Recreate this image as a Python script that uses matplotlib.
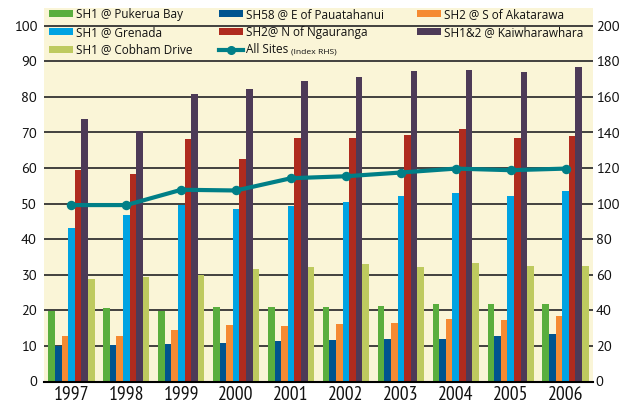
import matplotlib
matplotlib.use("Agg")
import matplotlib.pyplot as plt
import numpy as np
from matplotlib.patches import Patch
from matplotlib.lines import Line2D

plt.rcParams['font.family'] = ['Open Sans', 'DejaVu Sans']

years = ['1997', '1998', '1999', '2000', '2001', '2002', '2003', '2004', '2005', '2006']
pukerua = [19.7, 20.6, 19.7, 20.9, 20.9, 20.9, 21.2, 21.8, 21.8, 21.8]
pauatahanui = [9.9, 10.2, 10.5, 10.8, 11.4, 11.7, 12.0, 12.0, 12.8, 13.3]
akatarawa = [12.8, 12.8, 14.5, 15.8, 15.6, 16.2, 16.5, 17.6, 17.3, 18.4]
grenada = [43.2, 46.9, 49.7, 48.6, 49.4, 50.5, 52.2, 53.1, 52.2, 53.6]
ngauranga = [59.5, 58.4, 68.1, 62.5, 68.4, 68.4, 69.3, 71.0, 68.4, 68.9]
kaiwharawhara = [73.7, 70.4, 80.9, 82.3, 84.6, 85.5, 87.4, 87.7, 86.9, 88.3]
cobham = [28.7, 29.3, 29.9, 31.5, 32.3, 32.9, 32.1, 33.2, 32.6, 32.6]
all_sites_index = [99.2, 99.2, 107.8, 107.4, 114.3, 115.4, 117.5, 119.7, 118.8, 119.7]

series = [
    ('SH1 @ Pukerua Bay', pukerua, '#5AAE3E'),
    ('SH58 @ E of Pauatahanui', pauatahanui, '#00548F'),
    ('SH2 @ S of Akatarawa', akatarawa, '#F58A32'),
    ('SH1 @ Grenada', grenada, '#00A3E2'),
    ('SH2@ N of Ngauranga', ngauranga, '#AF2B1E'),
    ('SH1&2 @ Kaiwharawhara', kaiwharawhara, '#4D3A57'),
    ('SH1 @ Cobham Drive', cobham, '#BECA5F'),
]
line_color = '#007F87'
cream = '#FAF5D7'

W, H = 639, 405
fig = plt.figure(figsize=(W / 100, H / 100), dpi=100)
renderer = fig.canvas.get_renderer()


def fit_size(text, family, target_px, base=10):
    t = fig.text(0, 0, text, family=family, fontsize=base)
    w = t.get_window_extent(renderer).width
    t.remove()
    return base * target_px / w


x_font = ['PT Sans Narrow', 'DejaVu Sans']
y_font = ['PT Sans', 'DejaVu Sans']
leg_font = ['Open Sans', 'DejaVu Sans']
x_size = fit_size('1997', x_font, 35.5)
y_size = fit_size('100', y_font, 23.5)
leg_size = fit_size('SH58 @ E of Pauatahanui', leg_font, 139)

left, right, top, bottom = 44, 593, 8, 381.5
ax = fig.add_axes([left / W, 1 - bottom / H, (right - left) / W, (bottom - top) / H])
ax.set_facecolor(cream)

x = np.arange(len(years))
bw = 0.12
n = len(series)
handles = {}
for i, (name, vals, col) in enumerate(series):
    off = (i - (n - 1) / 2) * bw
    ax.bar(x + off, vals, width=bw, color=col, zorder=3, linewidth=0)
    handles[name] = Patch(facecolor=col, edgecolor='none')

ax.set_xlim(-0.5, len(years) - 0.5)
ax.set_ylim(0, 105)
ax.set_yticks(np.arange(0, 101, 10))
ax.set_xticks(x)
ax.set_xticklabels(years, family=x_font)
for lbl in ax.get_yticklabels():
    lbl.set_family(y_font)
for yv in np.arange(10, 101, 10):
    ax.axhline(yv, color='#333333', lw=1.3, zorder=1)
for s in ['left', 'right', 'top']:
    ax.spines[s].set_visible(False)
ax.spines['bottom'].set_color('black')
ax.spines['bottom'].set_linewidth(1.5)
ax.spines['bottom'].set_zorder(5)
ax.tick_params(axis='y', length=0, pad=5, labelsize=y_size, labelcolor='#111111')
ax.tick_params(axis='x', length=0, pad=3, labelsize=x_size, labelcolor='#111111')

ax2 = ax.twinx()
ax2.set_ylim(0, 210)
ax2.set_yticks(np.arange(0, 201, 20))
ax2.plot(x, all_sites_index, color=line_color, lw=3, marker='o', ms=5.8, zorder=6)
for s in ['left', 'right', 'top', 'bottom']:
    ax2.spines[s].set_visible(False)
ax2.tick_params(axis='y', length=0, pad=2, labelsize=y_size, labelcolor='#111111')
for lbl in ax2.get_yticklabels():
    lbl.set_family(y_font)

line_handle = Line2D([], [], color=line_color, lw=3, marker='o', ms=5.5)
columns = [
    (49, ['SH1 @ Pukerua Bay', 'SH1 @ Grenada', 'SH1 @ Cobham Drive']),
    (219, ['SH58 @ E of Pauatahanui', 'SH2@ N of Ngauranga', 'All Sites']),
    (417, ['SH2 @ S of Akatarawa', 'SH1&2 @ Kaiwharawhara']),
]
fs_px = leg_size * 100 / 72
legends = []
for xpos, names in columns:
    hl = [line_handle if nm == 'All Sites' else handles[nm] for nm in names]
    lg = fig.legend(hl, names, ncol=1, loc='upper left',
                    bbox_to_anchor=(xpos / W, 1 - 8 / H), bbox_transform=fig.transFigure,
                    frameon=False, prop={'family': leg_font, 'size': leg_size},
                    handlelength=24 / fs_px, handleheight=6 / fs_px,
                    handletextpad=3 / fs_px,
                    labelspacing=(16.5 - fs_px) / fs_px, borderpad=0, borderaxespad=0)
    for t in lg.get_texts():
        t.set_color('#111111')
    legends.append(lg)

fig.canvas.draw()
for lg in legends:
    for t in lg.get_texts():
        if t.get_text() == 'All Sites':
            bb = t.get_window_extent()
            fig.text((bb.x1 + 3) / W, (bb.y0 + 1) / H, '(Index RHS)', fontsize=leg_size * 0.72,
                     family=leg_font, ha='left', va='bottom', color='#111111')

fig.savefig('out.png', dpi=100, facecolor='white')
